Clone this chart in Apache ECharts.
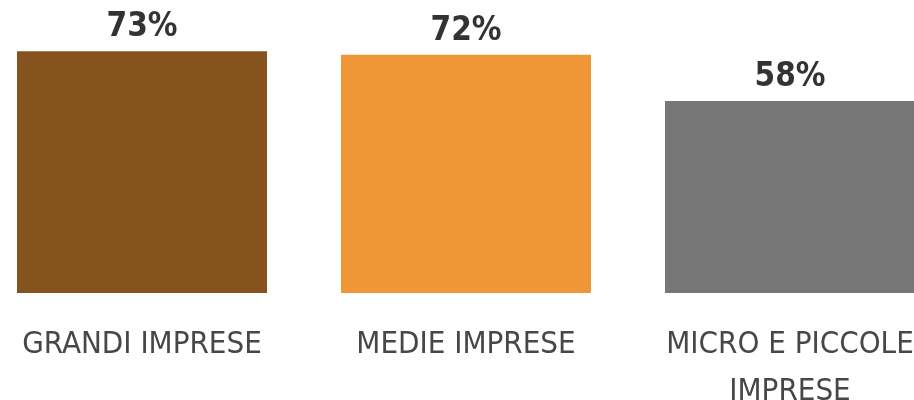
<!DOCTYPE html>
<html>
<head>
<meta charset="utf-8">
<script src="https://cdn.jsdelivr.net/npm/echarts@6/dist/echarts.min.js"></script>
<style>
html,body{margin:0;padding:0;background:#fff;}
#chart{width:914px;height:400px;}
</style>
</head>
<body>
<div id="chart"></div>
<script>
// Company size categories and share values (%)
const categories = ['GRANDI IMPRESE', 'MEDIE IMPRESE', 'MICRO E PICCOLE\nIMPRESE'];
const values = [73, 72, 58];
const barColors = ['#86531E', '#EF9737', '#777777'];

const condensed = '"Liberation Sans Narrow", "DejaVu Sans Condensed", sans-serif';

const chart = echarts.init(document.getElementById('chart'));
chart.setOption({
  animation: false,
  grid: {
    left: -20, right: -38, top: 0, bottom: 107,
    containLabel: false,
    outerBoundsMode: 'none'
  },
  xAxis: {
    type: 'category',
    data: categories,
    axisLine: { show: false },
    axisTick: { show: false },
    axisLabel: {
      interval: 0,
      margin: 28,
      fontFamily: condensed,
      fontSize: 31,
      lineHeight: 47,
      color: '#474747'
    }
  },
  yAxis: {
    type: 'value',
    min: 0,
    max: 88.5,
    show: false,
    splitLine: { show: false }
  },
  series: [{
    type: 'bar',
    barWidth: 250,
    data: values.map((v, i) => ({ value: v, itemStyle: { color: barColors[i] } })),
    label: {
      show: true,
      position: 'top',
      distance: 7,
      formatter: '{c}%',
      fontFamily: condensed,
      fontWeight: 'bold',
      fontSize: 33,
      color: '#333333'
    }
  }]
});
</script>
</body>
</html>
